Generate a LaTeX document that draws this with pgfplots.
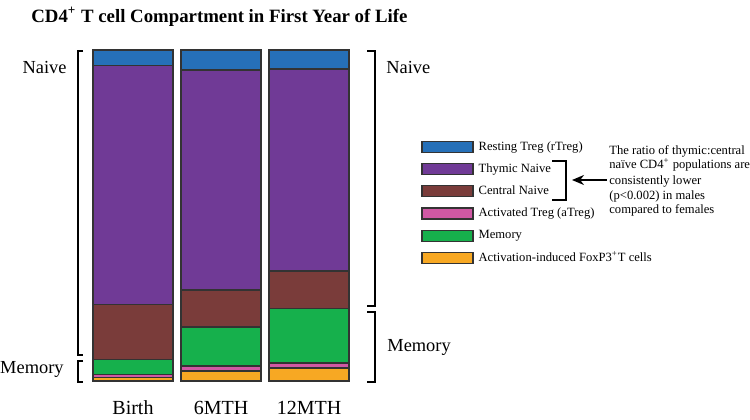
\documentclass[border=0pt]{standalone}
\usepackage{pgfplots}
\pgfplotsset{compat=1.18}
\usepackage{fontspec}
\setmainfont{Liberation Serif}
\usetikzlibrary{arrows.meta}
\definecolor{cBlue}{RGB}{38,112,184}
\definecolor{cPurple}{RGB}{112,58,150}
\definecolor{cBrown}{RGB}{122,60,58}
\definecolor{cPink}{RGB}{208,88,164}
\definecolor{cGreen}{RGB}{22,176,76}
\definecolor{cOrange}{RGB}{247,168,35}
\pgfplotsset{mylegend/.style={legend image code/.code={\draw[fill=#1,draw=black!80,line width=0.6pt] (0pt,-2.75pt) rectangle (25.5pt,2.75pt);}}}
\begin{document}
\begin{tikzpicture}
\begin{axis}[scale only axis,
  width=133pt, height=165.5pt,
  xmin=-0.511, xmax=2.511, ymin=0, ymax=100,
  ybar stacked, bar width=0.909,
  axis line style={draw=none}, ytick=\empty,
  xtick={0,1,2}, xticklabels={Birth,6MTH,12MTH},
  major tick length=0pt,
  xticklabel style={font=\fontsize{10}{12}\selectfont, anchor=base, inner sep=0pt, yshift=-16.5pt},
  clip=false,
  every axis plot/.append style={draw=black!80, line width=0.65pt},
  legend style={at={(1.2519,0.727)}, anchor=north west, draw=none, fill=none,
    font=\fontsize{6.3}{7.5}\selectfont, legend cell align=left,
    row sep=5pt, inner sep=0pt,
    nodes={inner xsep=2.5pt, inner ysep=0pt, text height=4.6pt, text depth=1.4pt}},
]
\addplot[fill=cOrange, forget plot] coordinates {(0,1.0) (1,3.0) (2,3.9)};
\addplot[fill=cPink, forget plot] coordinates {(0,1.0) (1,1.5) (2,1.5)};
\addplot[fill=cGreen, forget plot] coordinates {(0,4.5) (1,11.8) (2,16.6)};
\addplot[fill=cBrown, forget plot] coordinates {(0,16.6) (1,11.2) (2,11.2)};
\addplot[fill=cPurple, forget plot] coordinates {(0,72.2) (1,66.5) (2,61.1)};
\addplot[fill=cBlue, forget plot] coordinates {(0,4.7) (1,6.0) (2,5.7)};
\addlegendimage{mylegend=cBlue}\addlegendentry{Resting Treg (rTreg)}
\addlegendimage{mylegend=cPurple}\addlegendentry{Thymic Naive}
\addlegendimage{mylegend=cBrown}\addlegendentry{Central Naive}
\addlegendimage{mylegend=cPink}\addlegendentry{Activated Treg (aTreg)}
\addlegendimage{mylegend=cGreen}\addlegendentry{Memory}
\addlegendimage{mylegend=cOrange}\addlegendentry{Activation-induced FoxP3\textsuperscript{+}T cells}
\coordinate (O) at (rel axis cs:0,0);
\end{axis}
\begin{scope}[shift={(O)}]
\begin{scope}[x=0.5pt, y=0.5pt, shift={(-88,-38)}]
% title
\node[anchor=base west, font=\bfseries\fontsize{9.4}{11}\selectfont, inner sep=0pt] at (31,397) {CD4\textsuperscript{+} T cell Compartment in First Year of Life};
% side labels
\node[anchor=base east, font=\fontsize{9.2}{11}\selectfont, inner sep=0pt] at (67,346) {Naive};
\node[anchor=base east, font=\fontsize{9.2}{11}\selectfont, inner sep=0pt] at (64,46) {Memory};
\node[anchor=base west, font=\fontsize{9.2}{11}\selectfont, inner sep=0pt] at (386,346) {Naive};
\node[anchor=base west, font=\fontsize{9.2}{11}\selectfont, inner sep=0pt] at (387,68) {Memory};
% brackets
\draw[line width=1pt] (83,368) -- (77.5,368) -- (77.5,64) -- (83,64);
\draw[line width=1pt] (83,58) -- (77.5,58) -- (77.5,37) -- (83,37);
\draw[line width=1pt] (367,368) -- (375,368) -- (375,113) -- (367,113);
\draw[line width=1pt] (367,107) -- (375,107) -- (375,37) -- (367,37);
\draw[line width=1.2pt] (552,258) -- (566,258) -- (566,219) -- (552,219);
\draw[line width=1pt, -{Stealth[length=6pt,width=5pt]}] (607,239) -- (572,239);
% annotation
\begin{scope}[every node/.style={anchor=base west, font=\fontsize{6.3}{7.5}\selectfont, inner sep=0pt}]
\node at (609,265) {The ratio of thymic:central};
\node at (609,250.5) {naïve CD4\textsuperscript{+} populations are};
\node at (609,235) {consistently lower};
\node at (609,220) {(p<0.002) in males};
\node at (609,205.5) {compared to females};
\end{scope}
\pgfresetboundingbox
\path[use as bounding box] (0,0) rectangle (750,419);
\end{scope}
\end{scope}
\end{tikzpicture}
\end{document}
